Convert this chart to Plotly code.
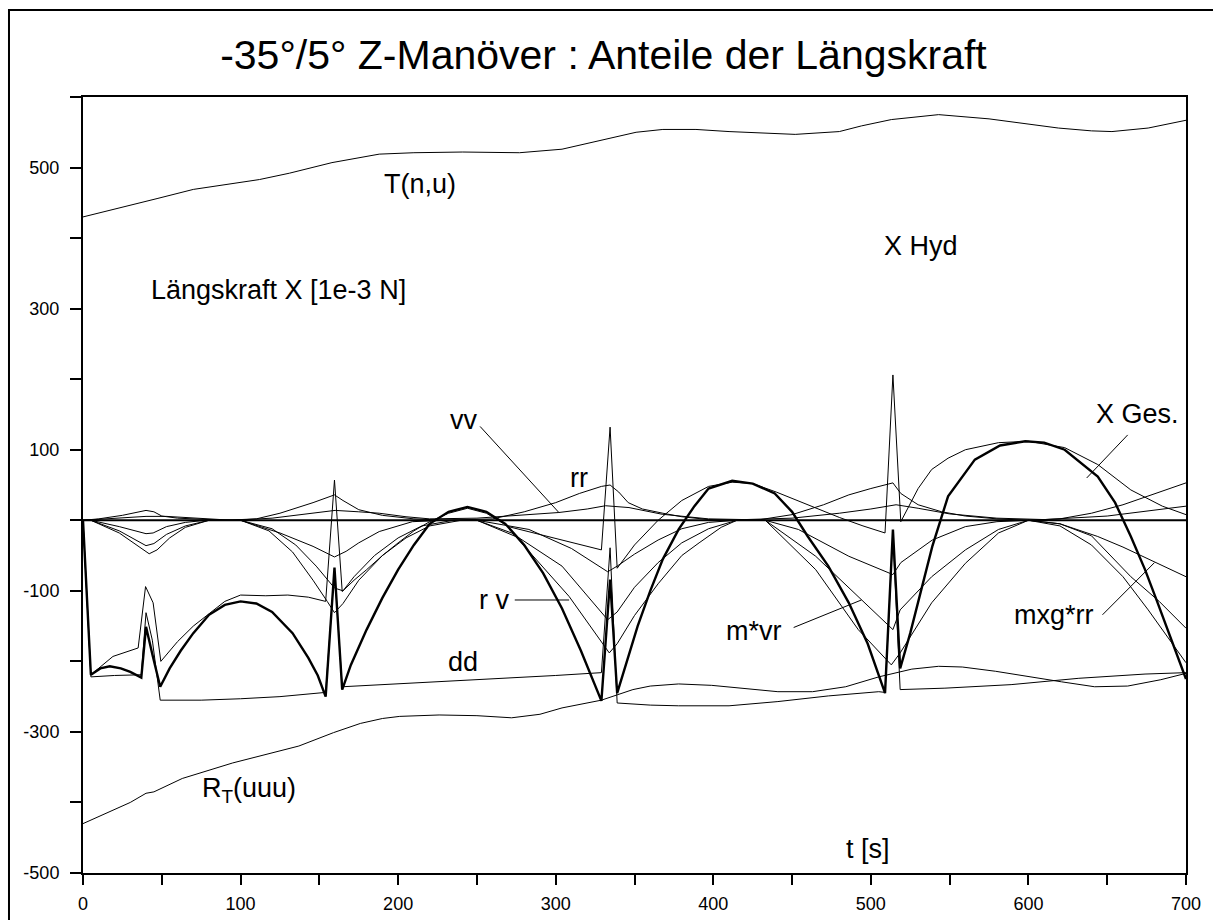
import plotly.graph_objects as go

# ---------------- data ----------------
t_T = [0, 15, 28, 47, 70, 90, 112, 131, 158, 188, 210, 241, 277, 304, 325, 351, 368, 389, 410, 430,
       452, 480, 494, 513, 543, 575, 600, 619, 640, 653, 676, 700]
T_vals = [430, 438, 445, 456, 469, 476, 483, 492, 507, 519, 521, 522, 521, 526, 537, 550, 554, 554, 551, 549,
          547, 551, 559, 568, 575, 569, 562, 556, 552, 551, 556, 567]

t_RT = [0, 30, 40, 45, 63, 95, 137, 159, 176, 190, 201, 226, 250, 272, 290, 304, 329, 349, 360, 378,
        399, 420, 441, 463, 484, 505, 526, 543, 558, 579, 600, 621, 642, 663, 684, 700]
RT_vals = [-430, -400, -387, -385, -366, -344, -320, -301, -288, -281, -278, -276, -277, -280, -275, -266, -255, -240, -235, -232,
           -234, -238, -243, -243, -236, -222, -211, -207, -208, -214, -222, -229, -236, -235, -226, -217]

t_dd = [0, 5, 20, 37, 40, 44, 49, 75, 100, 125, 154, 159.6, 164.5, 200, 250, 300, 329, 334.5, 339, 360,
        378, 410, 441, 473, 505, 509, 514, 518.6, 547, 589, 632, 674, 700]
dd_vals = [0, -222, -220, -219, -131, -170, -255, -255, -253, -250, -244, -70, -236, -232, -226, -220, -216, -39, -259, -262,
           -263, -263, -257, -249, -243, -244, -20, -240, -238, -233, -224, -218, -216]

t_ges = [0, 5, 11, 17, 24, 30, 37, 40, 44, 49, 55, 62, 70, 80, 90, 100, 110, 120, 133, 143,
         149, 154, 159.6, 164.5, 170, 180, 190, 200, 210, 220, 232, 244, 256, 268, 280, 292, 304, 316, 329, 334.5,
         339, 345, 352, 360, 368, 378, 388, 397, 412, 425, 439, 450, 460, 473, 486, 498, 509, 514, 518.6, 525,
         532, 539, 549, 566, 582, 598, 610, 623, 644, 655, 665, 674, 682, 690, 700]
ges_vals = [0, -219, -210, -207, -210, -215, -223, -151, -190, -236, -210, -185, -160, -134, -120, -115, -118, -130, -160, -195,
            -220, -250, -67, -240, -205, -155, -110, -70, -35, -5, 12, 19, 12, -5, -35, -75, -125, -185, -256, -84,
            -245, -200, -150, -100, -55, -13, 20, 45, 56, 52, 38, 12, -23, -65, -117, -175, -245, -13, -210, -160,
            -100, -37, 34, 86, 106, 112, 110, 100, 62, 25, -23, -70, -117, -165, -225]

t_hyd = [0, 5, 19, 35, 39.7, 44.5, 49.4, 60, 70, 80.5, 90, 100, 116, 130, 143, 154, 159.6, 164.5, 172, 180,
         190, 200, 210, 220, 232, 244, 256, 270, 290, 310, 329, 334.5, 339, 350, 365, 380, 397, 412, 425, 440,
         460, 480, 495, 509, 514, 519, 530, 538.6, 549, 560, 581, 600, 623, 644, 665, 685, 700]
hyd_vals = [0, -219, -193, -181, -94, -117, -200, -172, -150, -132, -115, -106, -107, -106, -109, -115, 57, -101, -85, -70,
            -50, -32, -15, -2, 10, 17, 10, -9, -20, -31, -42, 132, -68, -35, 0, 28, 48, 54, 52, 40,
            22, 4, -8, -18, 206, -2, 45, 72, 88, 100, 110, 112, 103, 79, 43, 20, 8]

t_rr = [0, 10, 25, 40, 45, 50, 60, 75, 90, 110, 125, 146, 159.6, 165, 175, 190, 210, 230, 260, 280,
        300, 315, 329, 334.5, 340, 346, 355, 368, 380, 397, 415, 430, 450, 470, 486, 500, 509, 514, 519, 530,
        545, 560, 580, 600, 620, 640, 660, 680, 700]
rr_vals = [0, 2, 7, 14, 12, 6, 3, 1, 0, 2, 10, 25, 36, 28, 15, 7, 2, 0, 2, 12,
           25, 38, 48, 50, 40, 25, 16, 10, 5, 1, 0, 1, 8, 22, 36, 45, 50, 53, 38, 22,
           12, 6, 2, 0, 2, 10, 22, 37, 53]

t_vv = [0, 20, 40, 53, 70, 95, 120, 146, 160, 175, 188, 205, 220, 250, 283, 302, 320, 331.6, 346.5, 367.6,
        397, 420, 450, 480, 500, 516, 530, 550, 580, 610, 650, 680, 700]
vv_vals = [0, 3, 5.5, 5.5, 3, 0, 3, 10, 14, 12, 10, 5, 2, 3, 8, 11, 16, 20.6, 18, 8.5,
           2, 1, 3, 10, 16, 22, 17, 9, 3, 1, 6, 14, 20]

t_mxg = [0, 5, 23, 40, 44.5, 53, 65, 78, 100, 125, 146, 159.6, 167, 175, 188, 209, 230, 250, 283, 310,
         333, 339, 350, 365, 380, 397, 415, 433, 454, 486, 514, 519, 539, 560, 580, 600, 620, 644, 660, 679, 700]
mxg_vals = [0, 0, -9, -19, -18, -9, -3, 0, 0, -18, -37, -52, -44, -32, -16, -2, 0, 0, -13, -40,
            -73, -65, -48, -28, -12, -3, 0, 0, -13, -51, -77, -60, -28, -9, -2, 0, -5, -23, -38, -58, -80]

t_mvr = [0, 5, 23, 40, 45, 53, 65, 80, 100, 120, 135, 148, 159.6, 165, 172, 185, 200, 215, 235, 250,
         272, 304, 333, 339, 350, 365, 380, 397, 415, 433, 465, 494, 514, 518.6, 538.6, 560, 581, 600, 620, 640,
         665, 683, 700]
mvr_vals = [0, 0, -15, -36, -33, -20, -8, 0, 0, -12, -35, -65, -96, -100, -80, -50, -25, -8, 0, 0,
            -18, -65, -141, -130, -95, -60, -32, -12, 0, 0, -51, -113, -155, -127, -80, -42, -13, 0, -5, -22,
            -80, -115, -153]

t_rv = [0, 5, 23, 42, 47, 55, 65, 80, 100, 118, 133, 146, 155, 159.6, 165, 175, 190, 205, 220, 240,
        250, 274.6, 308.5, 334, 339, 350, 365, 380, 391, 405, 415, 433, 465, 492, 513, 518.6, 538.6, 560, 581, 600,
        620, 640, 660, 676, 700]
rv_vals = [0, 0, -18, -47.5, -42, -25, -10, 0, 0, -15, -45, -85, -115, -131, -118, -85, -50, -25, -8, 0,
           0, -23, -108, -188, -175, -135, -90, -50, -32, -10, 0, 0, -70, -155, -205, -188, -117, -61, -18, 0,
           -8, -35, -80, -127, -202]

x_ticks = [0, 100, 200, 300, 400, 500, 600, 700]
x_tick_text = ["0", "100", "200", "300", "400", "500", "600", "700"]
y_ticks = [-500, -300, -100, 100, 300, 500]
y_tick_text = ["-500", "-300", "-100", "100", "300", "500"]

FONT = "Liberation Sans, Arial, sans-serif"

fig = go.Figure()

thin = dict(color="black", width=1)
for tx, vy, nm in [(t_T, T_vals, "T(n,u)"), (t_RT, RT_vals, "R_T(uuu)"), (t_dd, dd_vals, "dd"),
                   (t_rr, rr_vals, "rr"), (t_vv, vv_vals, "vv"), (t_mxg, mxg_vals, "mxg*rr"),
                   (t_mvr, mvr_vals, "m*vr"), (t_rv, rv_vals, "r v"), (t_hyd, hyd_vals, "X Hyd")]:
    fig.add_trace(go.Scatter(x=tx, y=vy, mode="lines", name=nm, line=thin, hoverinfo="skip"))

fig.add_trace(go.Scatter(x=t_ges, y=ges_vals, mode="lines", name="X Ges.",
                         line=dict(color="black", width=2.4), hoverinfo="skip"))

# zero line
fig.add_hline(y=0, line=dict(color="black", width=2))

# outer frame (left and top visible)
fig.add_shape(type="rect", xref="paper", yref="paper", x0=-0.0671, x1=1.08, y0=-0.12, y1=1.1121,
              line=dict(color="black", width=2), layer="above")

lab = dict(size=27, family=FONT, color="black")
annots = [
    dict(x=214, y=477, text="T(n,u)", xanchor="center"),
    dict(x=42, y=326, text="Längskraft X [1e-3 N]", xanchor="left"),
    dict(x=74, y=-383, text="R<sub>T</sub>(uuu)", xanchor="left"),
    dict(x=498, y=-466, text="t [s]", xanchor="center"),
    dict(x=532, y=389, text="X Hyd", xanchor="center"),
    dict(x=669, y=151, text="X Ges.", xanchor="center"),
    dict(x=242, y=142, text="vv", xanchor="center"),
    dict(x=315, y=60, text="rr", xanchor="center"),
    dict(x=261, y=-113, text="r v", xanchor="center"),
    dict(x=241, y=-201, text="dd", xanchor="center"),
    dict(x=426, y=-157, text="m*vr", xanchor="center"),
    dict(x=616, y=-134, text="mxg*rr", xanchor="center"),
]
for a in annots:
    fig.add_annotation(xref="x", yref="y", showarrow=False, yanchor="middle", font=lab, **a)

# leader lines
leaders = [
    (252, 133, 302, 11),      # vv
    (274, -113, 308.5, -113), # r v
    (451, -152, 494, -113),   # m*vr
    (647, -134, 680, -60),    # mxg*rr
    (663, 121, 637, 60),      # X Ges.
]
for x0, y0, x1, y1 in leaders:
    fig.add_shape(type="line", xref="x", yref="y", x0=x0, y0=y0, x1=x1, y1=y1,
                  line=dict(color="black", width=1))

tickfont = dict(size=18, family=FONT, color="black")
fig.update_layout(
    width=1213, height=920, autosize=False,
    margin=dict(l=83, r=27, t=97, b=47, pad=0, autoexpand=False),
    paper_bgcolor="white", plot_bgcolor="white",
    showlegend=False,
    title=dict(text="-35°/5° Z-Manöver : Anteile der Längskraft",
               font=dict(size=41, family=FONT, color="black"),
               x=0.4975, xref="container", xanchor="center",
               y=1 - 55 / 920, yref="container", yanchor="middle"),
    xaxis=dict(range=[0, 700], tickmode="array", tickvals=x_ticks, ticktext=x_tick_text,
               automargin=False,
               ticks="outside", ticklen=10, tickwidth=1.5, tickcolor="black",
               showline=True, linewidth=2, linecolor="black", mirror=True,
               showgrid=False, zeroline=False, tickfont=tickfont, ticklabelstandoff=3,
               minor=dict(tick0=0, dtick=50, ticks="outside", ticklen=10, tickwidth=1.5,
                          tickcolor="black", showgrid=False)),
    yaxis=dict(range=[-500, 600], tickmode="array", tickvals=y_ticks, ticktext=y_tick_text,
               automargin=False,
               ticks="outside", ticklen=11, tickwidth=1.5, tickcolor="black",
               showline=True, linewidth=2, linecolor="black", mirror=True,
               showgrid=False, zeroline=False, tickfont=tickfont, ticklabelstandoff=7,
               minor=dict(tick0=-500, dtick=100, ticks="outside", ticklen=11, tickwidth=1.5,
                          tickcolor="black", showgrid=False)),
)

fig.write_html("out.html")
